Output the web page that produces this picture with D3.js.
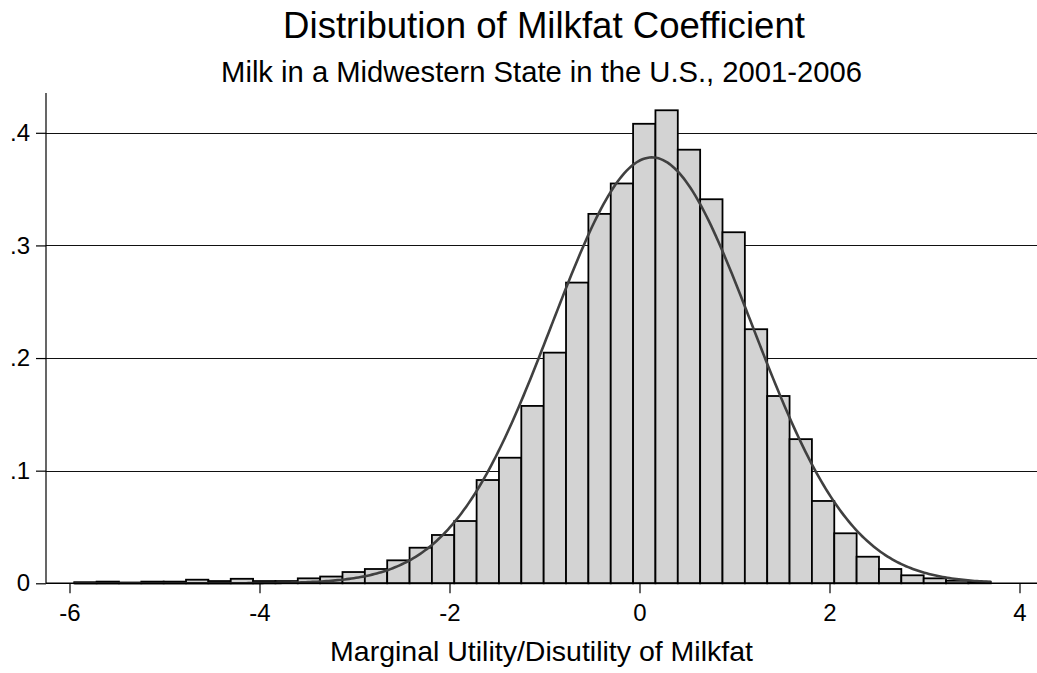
<!DOCTYPE html>
<html>
<head>
<meta charset="utf-8">
<script src="https://cdn.jsdelivr.net/npm/d3@7"></script>
<style>
  html, body { margin: 0; padding: 0; background: #fff; }
  svg { display: block; font-family: "Liberation Sans", Arial, sans-serif; }
</style>
</head>
<body>
<svg id="chart" width="1037" height="673"></svg>
<script>
// ---- data ----
const titleText = "Distribution of Milkfat Coefficient";
const subtitleText = "Milk in a Midwestern State in the U.S., 2001-2006";
const xAxisTitle = "Marginal Utility/Disutility of Milkfat";
const binStart = -5.95;      // left edge of first bin
const binWidth = 0.2353;     // bin width
const densities = [
  0.0010, 0.0015, 0.0007, 0.0015, 0.0015, 0.0032, 0.0020, 0.0040, 0.0020, 0.0020,
  0.0044, 0.0060, 0.0100, 0.0127, 0.0204, 0.0316, 0.0429, 0.0553, 0.0917, 0.1115,
  0.1575, 0.2048, 0.2670, 0.3280, 0.3550, 0.4080, 0.4200, 0.3850, 0.3410, 0.3117,
  0.2256, 0.1663, 0.1280, 0.0731, 0.0444, 0.0236, 0.0127, 0.0071, 0.0044, 0.0023,
  0.0014
];
const normalMean = 0.13;     // overlaid normal density
const normalSD = 1.055;
const xTicks = [-6, -4, -2, 0, 2, 4];
const yTicks = [0, 0.1, 0.2, 0.3, 0.4];
const yTickLabels = ["0", ".1", ".2", ".3", ".4"];

// ---- layout ----
const svg = d3.select("#chart");
const plotLeft = 46, plotRight = 1037, plotTop = 93;
const x = d3.scaleLinear().domain([-6, 4]).range([69.5, 1019.5]);
const y = d3.scaleLinear().domain([0, 0.4]).range([583.3, 132.8]);
const y0 = y(0);

svg.append("rect").attr("width", 1037).attr("height", 673).attr("fill", "#fff");

// gridlines
svg.append("g").selectAll("line")
  .data(yTicks.filter(d => d > 0))
  .join("line")
  .attr("x1", plotLeft).attr("x2", plotRight)
  .attr("y1", d => Math.round(y(d)) + 0.5).attr("y2", d => Math.round(y(d)) + 0.5)
  .attr("stroke", "#111").attr("stroke-width", 1);

// bars
const bins = densities.map((d, i) => ({ x0: binStart + i * binWidth, x1: binStart + (i + 1) * binWidth, v: d }));
svg.append("g").selectAll("rect")
  .data(bins)
  .join("rect")
  .attr("x", d => x(d.x0))
  .attr("width", d => x(d.x1) - x(d.x0))
  .attr("y", d => y(d.v))
  .attr("height", d => y0 - y(d.v))
  .attr("fill", "#d3d3d3")
  .attr("stroke", "#000")
  .attr("stroke-width", 1.8);

// normal curve
const xMin = binStart, xMax = binStart + densities.length * binWidth;
const curvePts = d3.range(0, 401).map(i => {
  const v = xMin + (xMax - xMin) * i / 400;
  const z = (v - normalMean) / normalSD;
  return [v, Math.exp(-0.5 * z * z) / (normalSD * Math.sqrt(2 * Math.PI))];
});
svg.append("path")
  .datum(curvePts)
  .attr("fill", "none")
  .attr("stroke", "#404040")
  .attr("stroke-width", 2.6)
  .attr("d", d3.line().x(d => x(d[0])).y(d => y(d[1])));

// axes lines
svg.append("line").attr("x1", plotLeft).attr("x2", plotLeft)
  .attr("y1", plotTop).attr("y2", y0).attr("stroke", "#000").attr("stroke-width", 1.2);
svg.append("line").attr("x1", plotLeft).attr("x2", plotRight)
  .attr("y1", y0).attr("y2", y0).attr("stroke", "#000").attr("stroke-width", 1.5);

// x axis
const xAxis = d3.axisBottom(x).tickValues(xTicks).tickSize(10).tickSizeOuter(0).tickPadding(11)
  .tickFormat(d3.format("d"));
const gx = svg.append("g").attr("transform", `translate(0,${y0})`).call(xAxis);
gx.select(".domain").remove();
gx.selectAll(".tick line").attr("stroke", "#000").attr("stroke-width", 1.2);
gx.selectAll(".tick text").attr("font-size", 24).attr("fill", "#000")
  .attr("font-family", "Liberation Sans, Arial, sans-serif")
  .text(d => String(d).replace("\u2212", "-"));

// y axis
const yAxis = d3.axisLeft(y).tickValues(yTicks).tickSize(10).tickSizeOuter(0).tickPadding(6)
  .tickFormat((d, i) => yTickLabels[i]);
const gy = svg.append("g").attr("transform", `translate(${plotLeft},0)`).call(yAxis);
gy.select(".domain").remove();
gy.selectAll(".tick line").attr("stroke", "#000").attr("stroke-width", 1.2);
gy.selectAll(".tick text").attr("font-size", 24).attr("fill", "#000")
  .attr("font-family", "Liberation Sans, Arial, sans-serif");

// titles
const cx = (plotLeft + plotRight) / 2;
svg.append("text").attr("x", 544).attr("y", 37.5).attr("text-anchor", "middle")
  .attr("font-size", 36.6).attr("fill", "#000").text(titleText);
svg.append("text").attr("x", cx).attr("y", 81.5).attr("text-anchor", "middle")
  .attr("font-size", 29.2).attr("fill", "#000").text(subtitleText);
svg.append("text").attr("x", cx).attr("y", 661).attr("text-anchor", "middle")
  .attr("font-size", 28.5).attr("fill", "#000").text(xAxisTitle);
</script>
</body>
</html>
